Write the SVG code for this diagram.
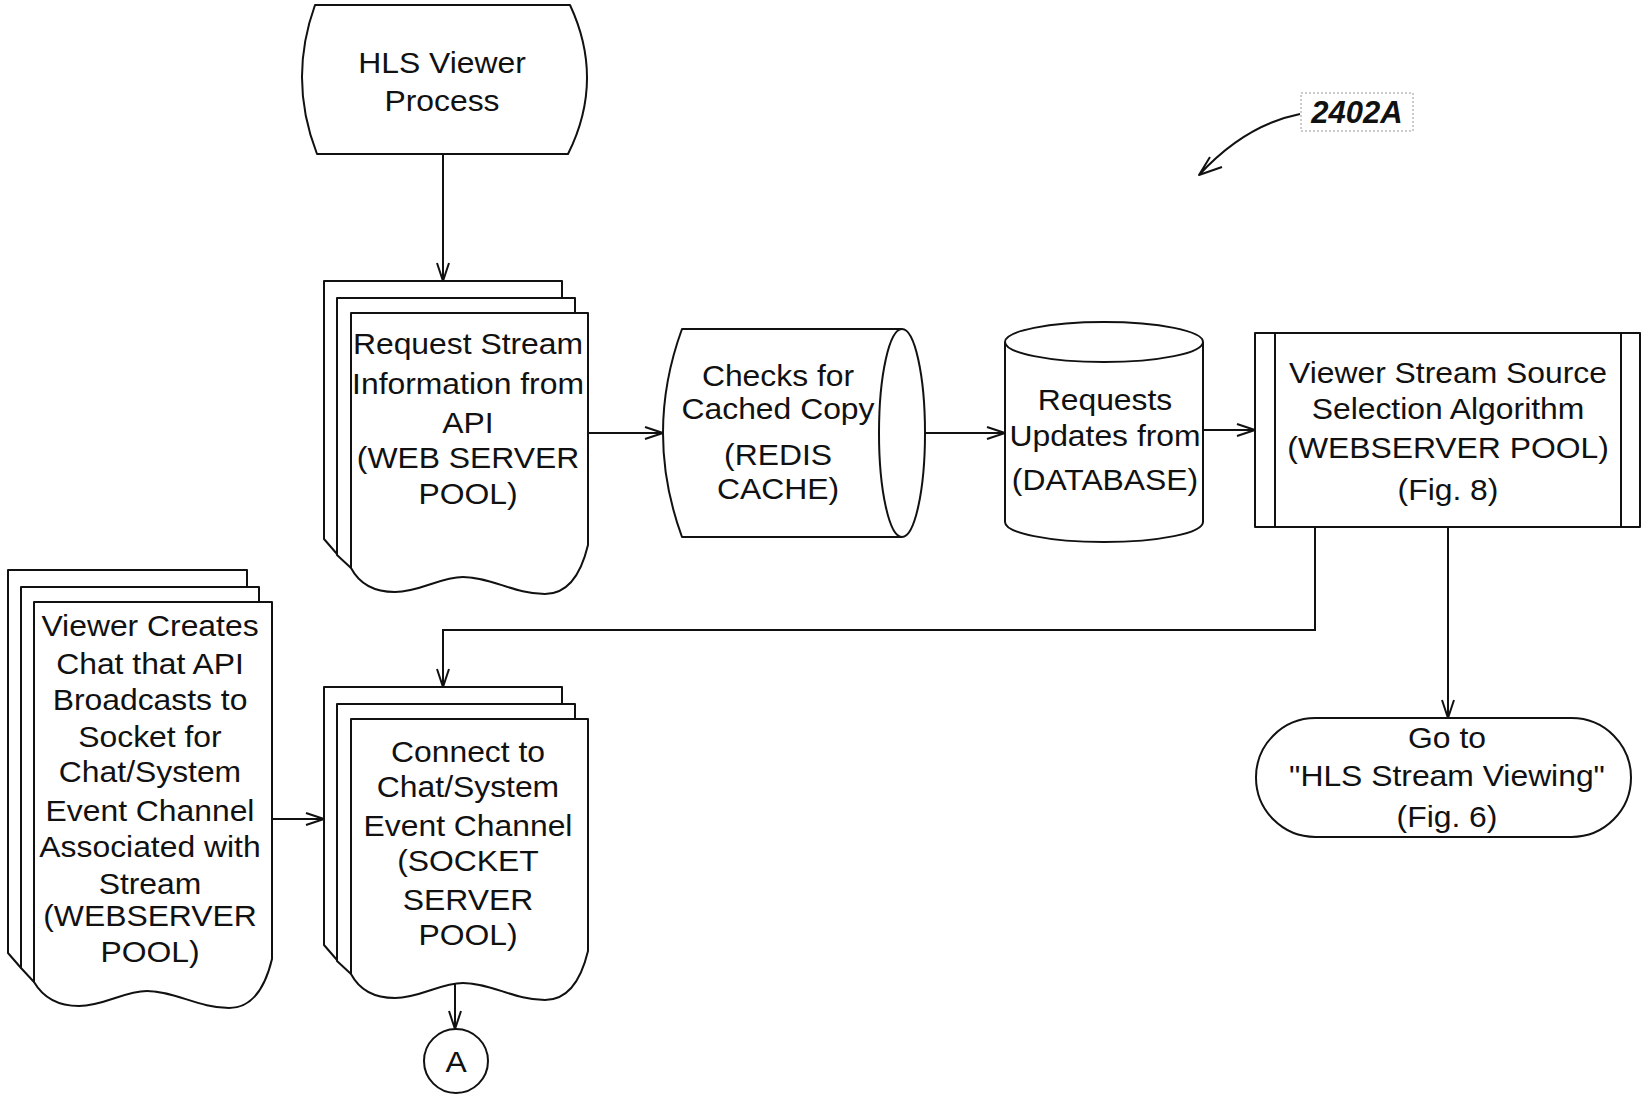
<svg xmlns="http://www.w3.org/2000/svg" width="1648" height="1098" viewBox="0 0 1648 1098">
<defs>
<style>
.s{fill:none;stroke:#111;stroke-width:2;stroke-linejoin:round}
.w{fill:#fff;stroke:#111;stroke-width:2;stroke-linejoin:round}
.t{font-family:"Liberation Sans",Arial,sans-serif;font-size:29.5px;fill:#111;text-anchor:middle}
.c{fill:none;stroke:#111;stroke-width:2;marker-end:url(#ah)}
</style>
<marker id="ah" viewBox="0 0 20 14" markerWidth="20" markerHeight="14" refX="19" refY="7" orient="auto" markerUnits="userSpaceOnUse"><path d="M1,1 L19,7 L1,13" fill="none" stroke="#111" stroke-width="2"/></marker>
</defs>
<rect width="1648" height="1098" fill="#fff"/>

<g id="connectors">
<path class="c" d="M443,155 V281"/>
<path class="c" d="M588,433 H663"/>
<path class="c" d="M925,433 H1005"/>
<path class="c" d="M1203,430 H1255"/>
<path class="c" d="M1315,527 V630 H443 V687"/>
<path class="c" d="M1448,527 V718"/>
<path class="c" d="M272,819 H324"/>
<path class="c" d="M455,984 V1029"/>
<path class="s" d="M1300,114 Q1245,125 1199,175 M1210,157 L1199,175 L1222,167"/>
</g>

<g id="node-hls-viewer-process">
<path class="w" d="M315,5 H570 Q605,80 568,154 H317 Q288,80 315,5 Z"/>
<g transform="translate(442,0) scale(1.08,1)">
<text class="t" x="0" y="73">HLS Viewer</text>
<text class="t" x="0" y="111">Process</text>
</g>
</g>

<g id="node-request-stream">
<path class="s" d="M562,298 V281 H324 V539 L337,554"/>
<path class="s" d="M575,313 V298 H337 V555 L351,568"/>
<path class="w" d="M351,313 H588 V545 C582,570 570,594 545,594 C515,594 490,577 463,577 C440,577 420,592 395,592 C375,592 360,585 351,568 Z"/>
<g transform="translate(468,0) scale(1.08,1)">
<text class="t" x="0" y="354">Request Stream</text>
<text class="t" x="0" y="394">Information from</text>
<text class="t" x="0" y="433">API</text>
<text class="t" x="0" y="468">(WEB SERVER</text>
<text class="t" x="0" y="504">POOL)</text>
</g>
</g>

<g id="node-redis-cache">
<path class="w" d="M902,329 H682 Q644,433 682,537 H902"/>
<ellipse class="w" cx="902" cy="433" rx="23" ry="104"/>
<g transform="translate(778,0) scale(1.08,1)">
<text class="t" x="0" y="386">Checks for</text>
<text class="t" x="0" y="419">Cached Copy</text>
<text class="t" x="0" y="465">(REDIS</text>
<text class="t" x="0" y="499">CACHE)</text>
</g>
</g>

<g id="node-database">
<path class="w" d="M1005,342 V522 A99,20 0 0 0 1203,522 V342"/>
<ellipse class="w" cx="1104" cy="342" rx="99" ry="20"/>
<g transform="translate(1105,0) scale(1.08,1)">
<text class="t" x="0" y="410">Requests</text>
<text class="t" x="0" y="446">Updates from</text>
<text class="t" x="0" y="490">(DATABASE)</text>
</g>
</g>

<g id="node-source-selection">
<rect class="w" x="1255" y="333" width="385" height="194"/>
<path class="s" d="M1275,333 V527 M1621,333 V527"/>
<g transform="translate(1448,0) scale(1.08,1)">
<text class="t" x="0" y="383">Viewer Stream Source</text>
<text class="t" x="0" y="419">Selection Algorithm</text>
<text class="t" x="0" y="458">(WEBSERVER POOL)</text>
<text class="t" x="0" y="500">(Fig. 8)</text>
</g>
</g>

<g id="node-goto-hls-viewing">
<rect class="w" x="1256" y="718" width="375" height="119" rx="59.5" ry="59.5"/>
<g transform="translate(1447,0) scale(1.08,1)">
<text class="t" x="0" y="748">Go to</text>
<text class="t" x="0" y="786">"HLS Stream Viewing"</text>
<text class="t" x="0" y="827">(Fig. 6)</text>
</g>
</g>

<g id="node-viewer-creates-chat">
<path class="s" d="M247,587 V570 H8 V953 L21,968"/>
<path class="s" d="M259,602 V587 H21 V968 L34,982"/>
<path class="w" d="M34,602 H272 V959 C266,984 254,1008 229,1008 C199,1008 174,991 147,991 C124,991 104,1006 79,1006 C59,1006 44,999 34,982 Z"/>
<g transform="translate(150,0) scale(1.08,1)">
<text class="t" x="0" y="636">Viewer Creates</text>
<text class="t" x="0" y="674">Chat that API</text>
<text class="t" x="0" y="710">Broadcasts to</text>
<text class="t" x="0" y="747">Socket for</text>
<text class="t" x="0" y="782">Chat/System</text>
<text class="t" x="0" y="821">Event Channel</text>
<text class="t" x="0" y="857">Associated with</text>
<text class="t" x="0" y="894">Stream</text>
<text class="t" x="0" y="926">(WEBSERVER</text>
<text class="t" x="0" y="962">POOL)</text>
</g>
</g>

<g id="node-connect-channel">
<g transform="translate(0,406)">
<path class="s" d="M562,298 V281 H324 V539 L337,554"/>
<path class="s" d="M575,313 V298 H337 V555 L351,568"/>
<path class="w" d="M351,313 H588 V545 C582,570 570,594 545,594 C515,594 490,577 463,577 C440,577 420,592 395,592 C375,592 360,585 351,568 Z"/>
</g>
<g transform="translate(468,0) scale(1.08,1)">
<text class="t" x="0" y="762">Connect to</text>
<text class="t" x="0" y="797">Chat/System</text>
<text class="t" x="0" y="836">Event Channel</text>
<text class="t" x="0" y="871">(SOCKET</text>
<text class="t" x="0" y="910">SERVER</text>
<text class="t" x="0" y="945">POOL)</text>
</g>
</g>

<g id="node-connector-a">
<circle class="w" cx="456" cy="1061" r="32"/>
<g transform="translate(456,0) scale(1.08,1)">
<text class="t" x="0" y="1072">A</text>
</g>
</g>

<g id="label-2402a">
<rect x="1301" y="93" width="112" height="38" fill="none" stroke="#999" stroke-width="1" stroke-dasharray="2 2"/>
<text x="1357" y="123" style="font-family:'Liberation Sans',Arial,sans-serif;font-size:31px;font-weight:bold;font-style:italic;fill:#111;text-anchor:middle">2402A</text>
</g>
</svg>
